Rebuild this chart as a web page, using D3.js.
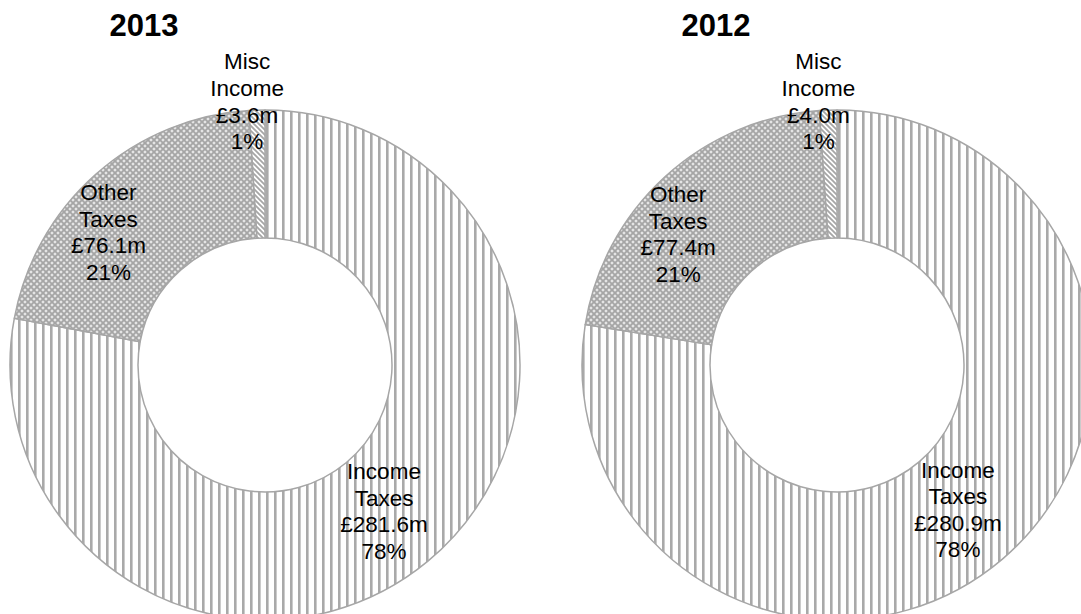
<!DOCTYPE html>
<html>
<head>
<meta charset="utf-8">
<script src="https://cdn.jsdelivr.net/npm/d3@7"></script>
<style>
  html, body { margin: 0; padding: 0; background: #fff; }
  svg { display: block; }
  text { font-family: "Liberation Sans", Arial, sans-serif; fill: #000; }
</style>
</head>
<body>
<svg id="chart" width="1081" height="614"></svg>
<script>
// Revenue breakdown by year
const years = ["2013", "2012"];
const categories = ["Income Taxes", "Other Taxes", "Misc Income"];
const labelLines = [["Income", "Taxes"], ["Other", "Taxes"], ["Misc", "Income"]];
const values2013 = [281.6, 76.1, 3.6];
const values2012 = [280.9, 77.4, 4.0];
const percentLabels2013 = ["78%", "21%", "1%"];
const percentLabels2012 = ["78%", "21%", "1%"];
const seriesValues = [values2013, values2012];
const seriesPercents = [percentLabels2013, percentLabels2012];

const svg = d3.select("#chart");

// Fill patterns
const defs = svg.append("defs");
const stroke = "#a6a6a6";

// vertical stripes
const pv = defs.append("pattern").attr("id", "pat-vert")
  .attr("patternUnits", "userSpaceOnUse").attr("width", 8).attr("height", 8);
pv.append("rect").attr("width", 8).attr("height", 8).attr("fill", "#fff");
pv.append("rect").attr("x", 1).attr("width", 2.6).attr("height", 8).attr("fill", "#a9a9a9");

// crosshatch
const pc = defs.append("pattern").attr("id", "pat-cross")
  .attr("patternUnits", "userSpaceOnUse").attr("width", 6).attr("height", 6);
pc.append("rect").attr("width", 6).attr("height", 6).attr("fill", "#bdbdbd");
pc.append("path").attr("d", "M0,0L6,6M6,0L0,6").attr("stroke", "#a4a4a4").attr("stroke-width", 1.1);
pc.append("rect").attr("x", 2).attr("y", 0).attr("width", 2).attr("height", 1).attr("fill", "#e4e4e4");
pc.append("rect").attr("x", 0).attr("y", 2).attr("width", 1).attr("height", 2).attr("fill", "#e4e4e4");
pc.append("rect").attr("x", 5).attr("y", 2).attr("width", 1).attr("height", 2).attr("fill", "#e4e4e4");
pc.append("rect").attr("x", 2).attr("y", 5).attr("width", 2).attr("height", 1).attr("fill", "#e4e4e4");

// downward diagonal stripes
const pd = defs.append("pattern").attr("id", "pat-diag")
  .attr("patternUnits", "userSpaceOnUse").attr("width", 5).attr("height", 5);
pd.append("rect").attr("width", 5).attr("height", 5).attr("fill", "#fff");
pd.append("path").attr("d", "M-1,-1L6,6M-1,4L1,6M4,-1L6,1").attr("stroke", "#a6a6a6").attr("stroke-width", 1.8);

const fills = ["url(#pat-vert)", "url(#pat-cross)", "url(#pat-diag)"];

const outerR = 255, innerR = 127;
const centersX = d3.scaleOrdinal().domain(years).range([265, 837]);
const cy = 365;

const pie = d3.pie().sort(null).value(d => d);
const arc = d3.arc().innerRadius(innerR).outerRadius(outerR);
const midR = (innerR + outerR) / 2;
const labelArc = d3.arc().innerRadius(midR).outerRadius(midR);

// Label placement tweaks (best-fit style positions around each slice)
const labelShift = [
  c => [c[0] - 3, c[1] - 1],
  c => [c[0] - 30, c[1] + 10],
  c => [c[0] - 12, c[1] - 73]
];

const lineH = 26.6;
const fontSize = 22.5;

years.forEach((yr, yi) => {
  const cx = centersX(yr);
  const g = svg.append("g").attr("transform", `translate(${cx},${cy})`);
  const arcs = pie(seriesValues[yi]);

  g.selectAll("path.slice").data(arcs).enter().append("path")
    .attr("class", "slice")
    .attr("d", arc)
    .attr("fill", (d, i) => fills[i])
    .attr("stroke", stroke)
    .attr("stroke-width", 1.5)
    .attr("stroke-linejoin", "round");

  // Title
  svg.append("text")
    .attr("x", cx - 121).attr("y", 36)
    .attr("text-anchor", "middle")
    .attr("font-size", 31).attr("font-weight", "bold")
    .text(yr);

  // Data labels
  arcs.forEach((d, i) => {
    const c = labelArc.centroid(d);
    const [lx, ly] = labelShift[i](c);
    const lines = [...labelLines[i], "£" + d.data.toFixed(1) + "m", seriesPercents[yi][i]];
    const t = g.append("text")
      .attr("text-anchor", "middle")
      .attr("font-size", fontSize);
    const y0 = ly - (lines.length - 1) * lineH / 2 + fontSize * 0.36;
    lines.forEach((s, k) => {
      t.append("tspan").attr("x", lx).attr("y", y0 + k * lineH).text(s);
    });
  });
});
</script>
</body>
</html>
